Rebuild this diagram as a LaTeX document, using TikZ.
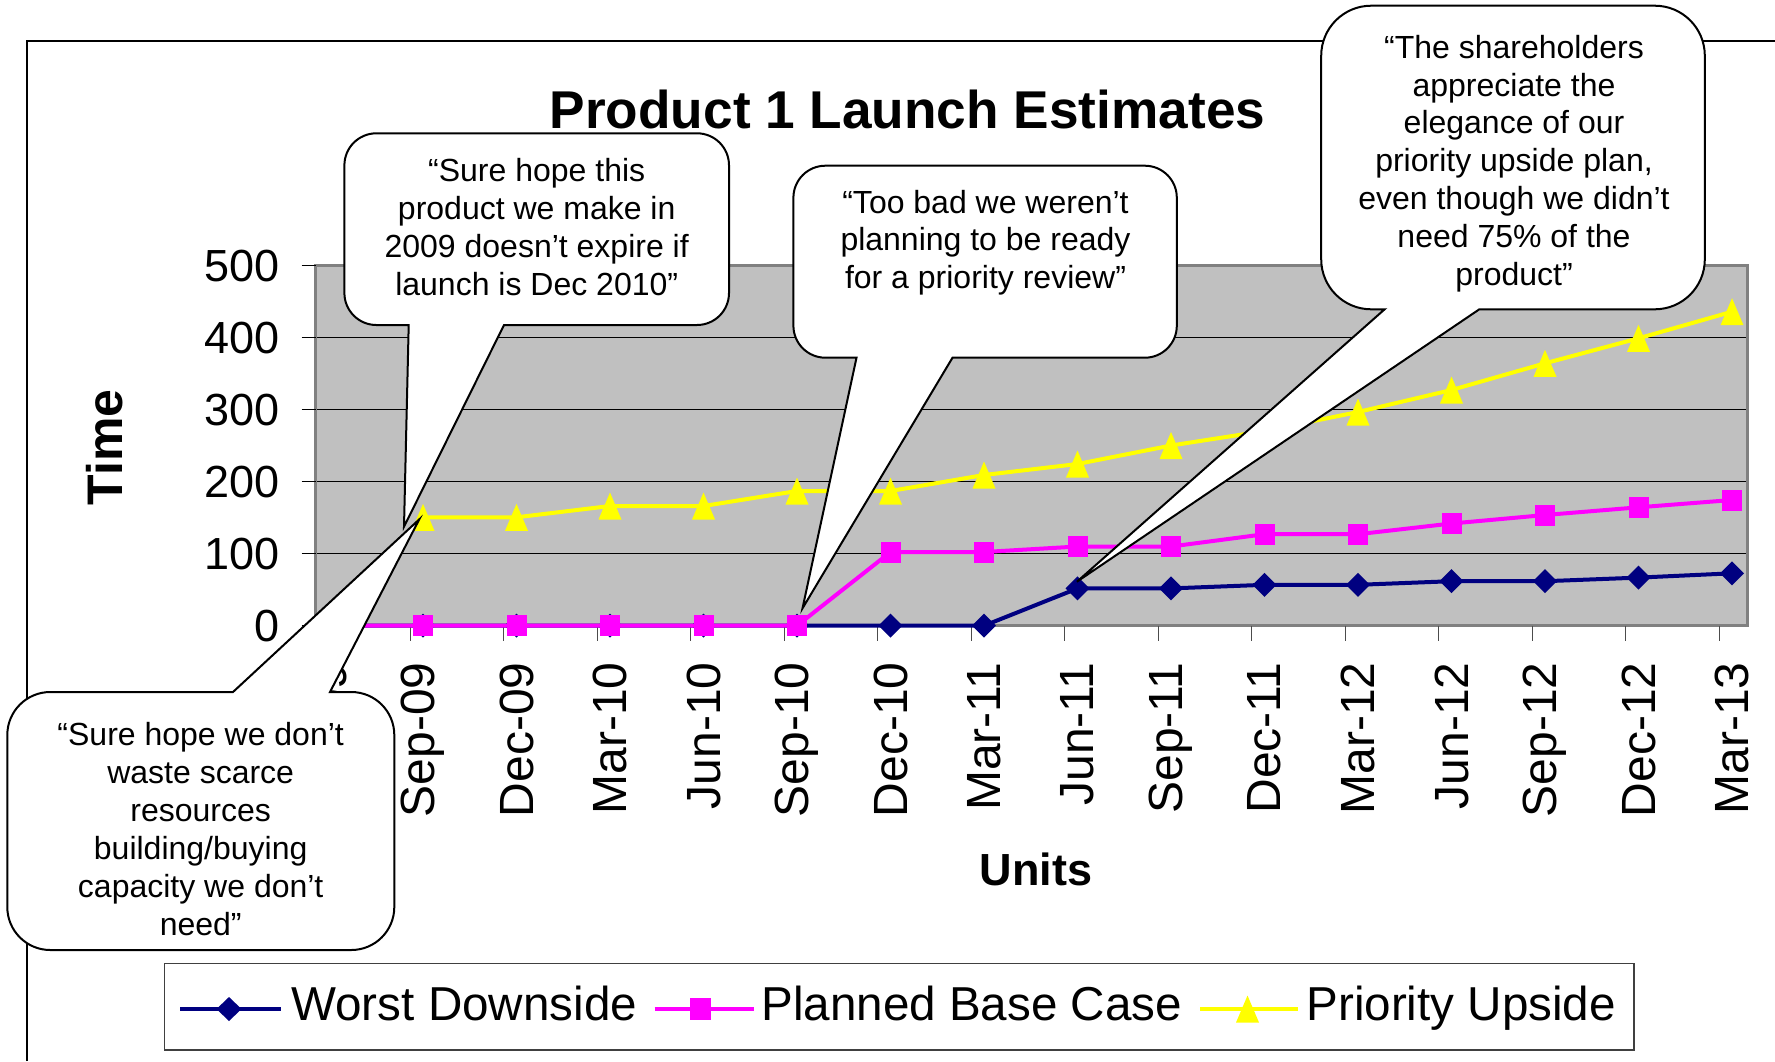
\documentclass[tikz,border=0pt]{standalone}
\usepackage{fontspec}
\setmainfont{Liberation Sans}
\definecolor{navyc}{HTML}{000080}
\definecolor{magc}{HTML}{FF00FF}
\definecolor{yelc}{HTML}{FFFF00}
\definecolor{plotbg}{HTML}{C0C0C0}
\definecolor{plotedge}{HTML}{808080}
\tikzset{
  ctext/.style={font=\fontsize{16}{19}\selectfont, anchor=base, inner sep=0pt},
  callout/.style={draw=black, fill=white, line width=1pt},
  ticklab/.style={font=\fontsize{22.5}{27}\selectfont, inner sep=0pt},
  xticklab/.style={font=\fontsize{24}{28}\selectfont, inner sep=0pt},
  leglab/.style={font=\fontsize{23.8}{28}\selectfont, anchor=base west, inner sep=0pt},
  series/.style={line width=2pt, line join=round},
}
% L T R B r b1 b2 tipx tipy  (tail on the bottom edge)
\newcommand{\calloutB}[9]{%
  \draw[callout] (#1,{#2+#5}) arc[start angle=180,end angle=270,radius=#5]
    -- ({#3-#5},#2) arc[start angle=270,end angle=360,radius=#5]
    -- (#3,{#4-#5}) arc[start angle=0,end angle=90,radius=#5]
    -- (#7,#4) -- (#8,#9) -- (#6,#4)
    -- ({#1+#5},#4) arc[start angle=90,end angle=180,radius=#5] -- cycle;}
\begin{document}
\begin{tikzpicture}[x=0.5pt,y=-0.5pt]
\useasboundingbox (0,0) rectangle (1775,1061);
\fill[white] (0,0) rectangle (1775,1061);
% chart frame
\draw[line width=0.85pt] (27,1061) -- (27,40.7) -- (1775,40.7);
% title
\node[font=\bfseries\fontsize{26.6}{30}\selectfont, anchor=base, inner sep=0pt] (title) at (907.5,128.3) {Product 1 Launch Estimates};
% plot area
\fill[plotbg] (315.7,265.7) rectangle (1747,625.7);
\foreach \y in {553.7,481.7,409.7,337.7}
  \draw[black, line width=0.5pt] (315.7,\y) -- (1747,\y);
\draw[plotedge, line width=1.5pt] (315.7,265.7) rectangle (1747,625.7);
% y axis ticks and labels
\foreach \v/\y in {0/625.7,100/553.7,200/481.7,300/409.7,400/337.7,500/265.7}{
  \draw[black, line width=0.5pt] (301.7,\y) -- (315.7,\y);
  \node[ticklab, anchor=east] (yl\v) at (280,\y) {\v};
}
% x axis ticks
\foreach \k in {1,...,15}
  \draw[black!70, line width=0.5pt] ({316.5+93.5*\k},625.7) -- ({316.5+93.5*\k},641);
% x labels
\foreach \t [count=\i from 0] in {Jun-09,Sep-09,Dec-09,Mar-10,Jun-10,Sep-10,Dec-10,Mar-11,Jun-11,Sep-11,Dec-11,Mar-12,Jun-12,Sep-12,Dec-12,Mar-13}
  \node[xticklab, rotate=90, anchor=east] (xl\i) at ({329.5+93.5*\i},662) {\t};
% axis titles
\node[font=\bfseries\fontsize{25}{30}\selectfont, rotate=90, anchor=base, inner sep=0pt] (ytitle) at (122.7,447.3) {Time};
\node[font=\bfseries\fontsize{22.5}{27}\selectfont, anchor=base, inner sep=0pt] (xtitle) at (1035.8,885) {Units};
% Worst Downside
\draw[navyc, series] plot coordinates {(329.5,625.7) (423,625.7) (516.5,625.7) (610,625.7) (703.5,625.7) (797,625.7) (890.5,625.7) (984,625.7) (1077.5,588.4) (1171,588.4) (1264.5,584.8) (1358,584.8) (1451.5,581.2) (1545,581.2) (1638.5,577.6) (1732,573.3)};
\foreach \x/\y in {329.5/625.7,423/625.7,516.5/625.7,610/625.7,703.5/625.7,797/625.7,890.5/625.7,984/625.7,1077.5/588.4,1171/588.4,1264.5/584.8,1358/584.8,1451.5/581.2,1545/581.2,1638.5/577.6,1732/573.3}
  \fill[navyc] ({\x-12},\y) -- (\x,{\y-12}) -- ({\x+12},\y) -- (\x,{\y+12}) -- cycle;
% Planned Base Case
\draw[magc, series] plot coordinates {(329.5,625.7) (423,625.7) (516.5,625.7) (610,625.7) (703.5,625.7) (797,625.7) (890.5,552) (984,552) (1077.5,546.5) (1171,546.5) (1264.5,534.2) (1358,534.2) (1451.5,523.5) (1545,515) (1638.5,507.3) (1732,500)};
\foreach \x/\y in {329.5/625.7,423/625.7,516.5/625.7,610/625.7,703.5/625.7,797/625.7,890.5/552,984/552,1077.5/546.5,1171/546.5,1264.5/534.2,1358/534.2,1451.5/523.5,1545/515,1638.5/507.3,1732/500}
  \fill[magc] ({\x-10},{\y-10.5}) rectangle ({\x+10},{\y+10.5});
% Priority Upside
\draw[yelc, series] plot coordinates {(423,517.3) (516.5,517.3) (610,506) (703.5,506) (797,491) (890.5,491) (984,475) (1077.5,464) (1171,445.5) (1264.5,431) (1358,412) (1451.5,390) (1545,363.3) (1638.5,338.3) (1732,311.7)};
\foreach \x/\y in {423/517.3,516.5/517.3,610/506,703.5/506,797/491,890.5/491,984/475,1077.5/464,1171/445.5,1264.5/431,1358/412,1451.5/390,1545/363.3,1638.5/338.3,1732/311.7}
  \fill[yelc] (\x,{\y-13.5}) -- ({\x+11.5},{\y+13.5}) -- ({\x-11.5},{\y+13.5}) -- cycle;
% legend
\draw[black!75, line width=0.75pt, fill=white] (164.5,963.3) rectangle (1634,1050);
\draw[navyc, series] (180,1009) -- (280.5,1009);
\fill[navyc] (216.5,1009) -- (229,997) -- (241.5,1009) -- (229,1021) -- cycle;
\node[leglab] (lg1) at (291,1020) {Worst Downside};
\draw[magc, series] (654.6,1009) -- (753.8,1009);
\fill[magc] (690.4,997.5) rectangle (711.3,1019.5);
\node[leglab] (lg2) at (761,1020) {Planned Base Case};
\draw[yelc, series] (1200,1009) -- (1298,1009);
\fill[yelc] (1247.5,995.5) -- (1259,1022.5) -- (1236,1022.5) -- cycle;
\node[leglab] (lg3) at (1306,1020) {Priority Upside};
% callout 1
\calloutB{344.4}{133.3}{729}{325}{32}{408.7}{504}{404}{526.7}
\foreach \t [count=\i] in {“Sure hope this,product we make in,2009 doesn’t expire if,launch is Dec 2010”}
  \node[ctext] (ca\i) at (536.7,{181.7+38*(\i-1)}) {\t};
% callout 4 (tail on top)
\draw[callout] (7.3,735) arc[start angle=180,end angle=270,radius=43]
  -- (233,692) -- (419.3,519.3) -- (330,692)
  -- (351.3,692) arc[start angle=270,end angle=360,radius=43]
  -- (394.3,907) arc[start angle=0,end angle=90,radius=43]
  -- (50.3,950) arc[start angle=90,end angle=180,radius=43] -- cycle;
\foreach \t [count=\i] in {“Sure hope we don’t,waste scarce,resources,building/buying,capacity we don’t,need”}
  \node[ctext] (cd\i) at (200.7,{745+38*(\i-1)}) {\t};
% callout 2
\calloutB{793.4}{165.7}{1176.8}{357.7}{32}{856.5}{952.5}{802.5}{608.3}
\foreach \t [count=\i] in {“Too bad we weren’t,planning to be ready,for a priority review”}
  \node[ctext] (cb\i) at (985.5,{213.3+37.5*(\i-1)}) {\t};
% callout 3
\calloutB{1321.2}{5.7}{1704.8}{309.3}{50}{1384.6}{1479.3}{1076.9}{581.7}
\foreach \t [count=\i] in {“The shareholders,appreciate the,elegance of our,{priority upside plan,},even though we didn’t,need 75\% of the,product”}
  \node[ctext] (cc\i) at (1514,{58.3+37.8*(\i-1)}) {\t};
\end{tikzpicture}
\end{document}
